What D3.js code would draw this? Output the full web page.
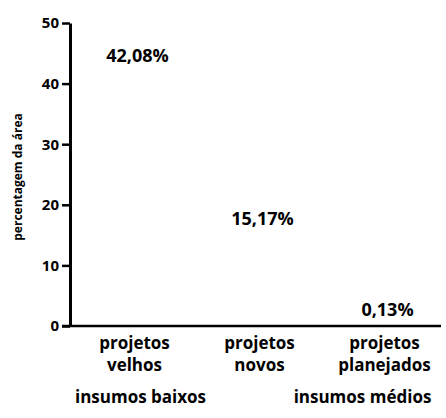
<!DOCTYPE html>
<html>
<head>
<meta charset="utf-8">
<script src="https://cdn.jsdelivr.net/npm/d3@7"></script>
<style>
  body { margin: 0; background: #fff; }
  svg text { font-family: 'Open Sans', sans-serif; font-weight: 700; fill: #000; }
</style>
</head>
<body>
<div id="chart"></div>
<script>
const w = 446
const h = 418

// data
const categories = ['projetos velhos', 'projetos novos', 'projetos planejados']
const values = [42.08, 15.17, 0.13]
const valueLabels = ['42,08%', '15,17%', '0,13%']
const yTicks = [0, 10, 20, 30, 40, 50]
const groups = ['insumos baixos', 'insumos médios']
const yTitle = 'percentagem da área'

const x = d3.scaleBand().domain(categories).range([72, 447])
const y = d3.scaleLinear().domain([0, 50]).range([326, 23])

const svg = d3.select('#chart').append('svg')
  .attr('width', w)
  .attr('height', h)

// y axis
const yAxis = d3.axisLeft(y)
  .tickValues(yTicks)
  .tickSize(8)
  .tickPadding(3)
  .tickSizeOuter(0)

const $y = svg.append('g')
  .attr('transform', 'translate(70, 0)')
  .call(yAxis)
$y.select('.domain').attr('stroke-width', 3)
$y.selectAll('.tick line').attr('stroke-width', 2.5)
$y.selectAll('.tick text').style('font-size', '15px')

// x axis (baseline only, labels below)
const xAxis = d3.axisBottom(x).tickSize(0).tickSizeOuter(0).tickPadding(11)
const $x = svg.append('g')
  .attr('transform', `translate(0, ${y(0)})`)
  .call(xAxis)
$x.select('.domain')
  .attr('d', `M62,0H441`)
  .attr('stroke-width', 2.5)
$x.selectAll('.tick text')
  .style('font-size', '17px')
  .text(null)
  .each(function (d) {
    const parts = d.split(' ')
    const t = d3.select(this)
    parts.forEach((p, i) => {
      t.append('tspan')
        .attr('x', 0)
        .attr('dy', i === 0 ? '0.71em' : '1.3em')
        .text(p)
    })
  })

// value labels (no bars in the original, just the figures)
svg.append('g').selectAll('text')
  .data(values)
  .join('text')
  .attr('x', (d, i) => x(categories[i]) + x.bandwidth() / 2 + 3)
  .attr('y', d => y(d) - 9)
  .attr('text-anchor', 'middle')
  .style('font-size', '18px')
  .text((d, i) => valueLabels[i])

// group labels under the categories
const groupAt = [categories[0], categories[2]]
svg.append('g').selectAll('text')
  .data(groups)
  .join('text')
  .attr('x', (d, i) => x(groupAt[i]) + x.bandwidth() / 2 + (i === 0 ? 6 : -22))
  .attr('y', 403)
  .attr('text-anchor', 'middle')
  .style('font-size', '17px')
  .text(d => d)

// y title
svg.append('text')
  .attr('transform', 'translate(22, 177) rotate(-90)')
  .attr('text-anchor', 'middle')
  .style('font-size', '12px')
  .text(yTitle)
</script>
</body>
</html>
